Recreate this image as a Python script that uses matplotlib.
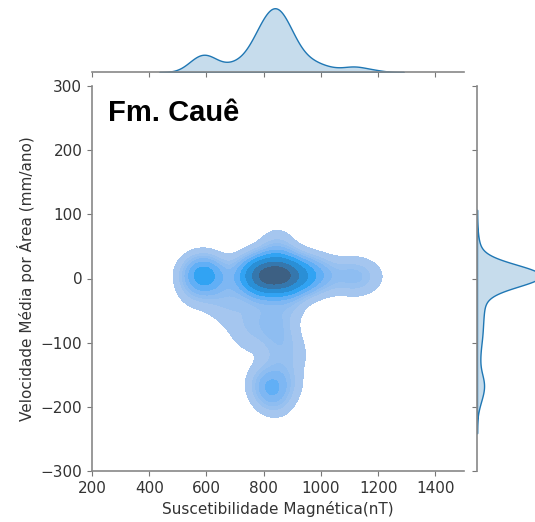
import numpy as np
import pandas as pd
import matplotlib
matplotlib.use("Agg")
import matplotlib.pyplot as plt
import seaborn as sns

# susceptibilidade magnetica (nT) x velocidade media (mm/ano)
core_x = [752, 757, 762, 768, 773, 778, 782, 787, 791, 795, 799, 803, 807, 811, 815, 819, 823, 827, 831, 835,
          839, 843, 847, 851, 855, 859, 863, 867, 871, 875, 879, 883, 888, 893, 898, 904, 910, 917, 924, 932]
core_y = [4, -2, 8, 0, 6, 12, -5, 3, 9, 1, 14, -3, 5, 7, 2, 10, -6, 4, 11, 0,
          6, -4, 8, 3, 13, -1, 5, 2, 9, 0, 6, 4, -2, 10, 7, 3, 1, 5, 12, -3]
top_x = [840, 850, 858]
top_y = [40, 58, 32]
left_x = [545, 560, 572, 583, 590, 596, 603, 612, 622, 635, 580]
left_y = [5, 0, 10, 3, 8, -2, 12, 4, 6, -4, 15]
diag_x = [555, 630, 680, 720, 745, 700, 690, 730]
diag_y = [-25, -35, -50, -70, -95, -20, 5, 10]
right_x = [945, 955, 965, 980, 995, 1015, 1050, 1100, 1115, 1130, 1180]
right_y = [6, 0, 10, 4, 8, 2, 5, 3, 6, 0, 4]
tail_x = [775, 795, 815, 835, 850, 865, 880, 895, 910, 845]
tail_y = [-35, -60, -80, -70, -100, -50, -90, -40, -120, -125]
bottom_x = [795, 805, 815, 822, 830, 840, 852, 868, 885]
bottom_y = [-155, -170, -178, -168, -188, -162, -192, -150, -165]

x = core_x + top_x + left_x + diag_x + right_x + tail_x + bottom_x
y = core_y + top_y + left_y + diag_y + right_y + tail_y + bottom_y
df = pd.DataFrame({"sus": x, "vel": y})

W, H = 535, 522
fig = plt.figure(figsize=(W / 100, H / 100), dpi=100)
ax = fig.add_axes([92 / W, (H - 471) / H, 372 / W, 385 / H])
ax_mx = fig.add_axes([92 / W, (H - 72) / H, 372 / W, 67 / H], sharex=ax)
ax_my = fig.add_axes([477 / W, (H - 471) / H, 67 / W, 385 / H], sharey=ax)

sns.kdeplot(data=df, x="sus", y="vel", fill=True, ax=ax, bw_adjust=0.7)
sns.kdeplot(data=df, x="sus", fill=True, ax=ax_mx, bw_adjust=0.7)
sns.kdeplot(data=df, y="vel", fill=True, ax=ax_my, bw_adjust=0.7)

ax.set_xlim(200, 1500)
ax.set_ylim(-300, 300)
ax.set_xticks(range(200, 1401, 200))
ax.set_yticks(range(-300, 301, 100))
ax.set_xlabel("Suscetibilidade Magnética(nT)", fontsize=11, color="#333333")
ax.set_ylabel("Velocidade Média por Área (mm/ano)", fontsize=11, color="#333333")
ax.tick_params(labelsize=11, labelcolor="#333333", color="#777777")
for s in ["top", "right"]:
    ax.spines[s].set_visible(False)
for s in ["left", "bottom"]:
    ax.spines[s].set_color("#888888")
    ax.spines[s].set_linewidth(1.2)

ax.text(0.043, 0.965, "Fm. Cauê", transform=ax.transAxes, ha="left", va="top",
        fontsize=21, fontweight="bold", family="Liberation Sans")

# marginais
for s in ["top", "right", "left"]:
    ax_mx.spines[s].set_visible(False)
ax_mx.spines["bottom"].set_color("#888888")
ax_mx.spines["bottom"].set_linewidth(1.2)
ax_mx.tick_params(axis="x", labelbottom=False, color="#777777")
ax_mx.set_yticks([])
ax_mx.set_xlabel("")
ax_mx.set_ylabel("")

for s in ["top", "right", "bottom"]:
    ax_my.spines[s].set_visible(False)
ax_my.spines["left"].set_color("#888888")
ax_my.spines["left"].set_linewidth(1.2)
ax_my.tick_params(axis="y", labelleft=False, color="#777777")
ax_my.set_xticks([])
ax_my.set_xlabel("")
ax_my.set_ylabel("")

fig.savefig("out.png", dpi=100)
